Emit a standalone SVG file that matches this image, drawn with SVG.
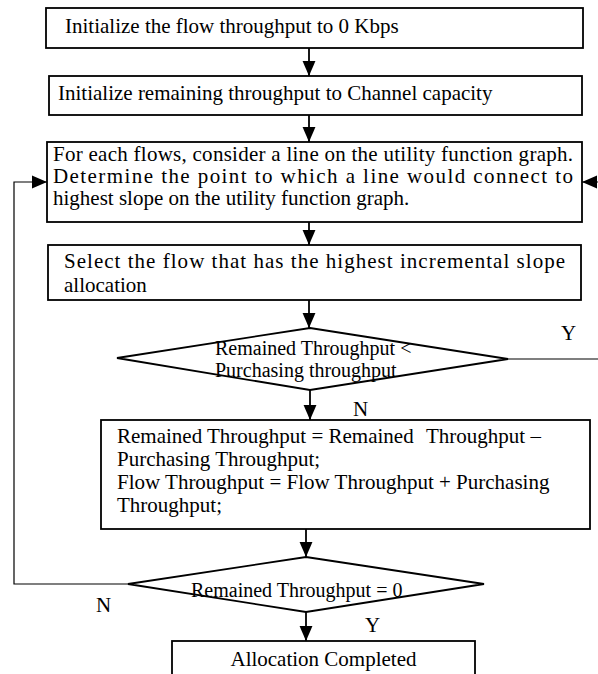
<svg xmlns="http://www.w3.org/2000/svg" width="598" height="674" viewBox="0 0 598 674">
<style>
.box{fill:#fff;stroke:#000;stroke-width:1.8}
.t{font-family:"Liberation Serif","Times New Roman",serif;font-size:21px;fill:#000}
.s{font-size:20px}
.c{fill:none;stroke:#000;stroke-width:1.8}
.loop{fill:none;stroke:#000;stroke-width:1.2}
</style>
<defs>
<marker id="ah2" viewBox="0 0 10 10" refX="10" refY="5" markerWidth="15" markerHeight="15" markerUnits="userSpaceOnUse" orient="auto">
<path d="M0,0.7 L10,5 L0,9.3 z" fill="#000"/>
</marker>
</defs>
<rect width="598" height="674" fill="#fff"/>
<g id="connectors">
<path class="c" d="M309,48 V76" marker-end="url(#ah2)"/>
<path class="c" d="M309,115 V142" marker-end="url(#ah2)"/>
<path class="c" d="M309,222 V245" marker-end="url(#ah2)"/>
<path class="c" d="M309,300 V328" marker-end="url(#ah2)"/>
<path class="c" d="M310,390 V420" marker-end="url(#ah2)"/>
<path class="c" d="M306,529 V557" marker-end="url(#ah2)"/>
<path class="c" d="M306,612 V641" marker-end="url(#ah2)"/>
<path class="loop" d="M128,584 H14 V182 H47" marker-end="url(#ah2)"/>
<path class="loop" d="M508,359 H600 V182 H582" marker-end="url(#ah2)"/>
<text class="t" x="561" y="340">Y</text>
<text class="t" x="353" y="416">N</text>
<text class="t" x="96" y="612">N</text>
<text class="t" x="365" y="632">Y</text>
</g>
<g id="n1">
<rect class="box" x="46" y="8" width="537" height="40"/>
<text class="t" x="65" y="33">Initialize the flow throughput to 0 Kbps</text>
</g>
<g id="n2">
<rect class="box" x="49" y="76" width="533" height="39"/>
<text class="t" x="58" y="100">Initialize remaining throughput to Channel capacity</text>
</g>
<g id="n3">
<rect class="box" x="47" y="142" width="535" height="80"/>
<text class="t" x="53" y="161" textLength="520" lengthAdjust="spacing">For each flows, consider a line on the utility function graph.</text>
<text class="t" x="53" y="183" textLength="520" lengthAdjust="spacing">Determine the point to which a line would connect to</text>
<text class="t" x="53" y="205">highest slope on the utility function graph.</text>
</g>
<g id="n4">
<rect class="box" x="48" y="245" width="533" height="55"/>
<text class="t" x="64" y="268" textLength="501" lengthAdjust="spacing">Select the flow that has the highest incremental slope</text>
<text class="t" x="64" y="292">allocation</text>
</g>
<g id="d1">
<polygon class="box" points="310,328 508,359 310,390 117,358"/>
<text class="t s" x="215" y="355">Remained Throughput &lt;</text>
<text class="t s" x="215" y="377">Purchasing throughput</text>
</g>
<g id="n5">
<rect class="box" x="101" y="420" width="489" height="109"/>
<text class="t" x="117" y="443">Remained Throughput = Remained</text>
<text class="t" x="426" y="443">Throughput –</text>
<text class="t" x="117" y="466">Purchasing Throughput;</text>
<text class="t" x="117" y="489">Flow Throughput = Flow Throughput + Purchasing</text>
<text class="t" x="117" y="512">Throughput;</text>
</g>
<g id="d2">
<polygon class="box" points="306,557 484,584 306,612 128,584"/>
<text class="t s" x="191" y="597">Remained Throughput = 0</text>
</g>
<g id="n6">
<rect class="box" x="172" y="641" width="303" height="40"/>
<text class="t" x="323.5" y="666" text-anchor="middle">Allocation Completed</text>
</g>
</svg>
